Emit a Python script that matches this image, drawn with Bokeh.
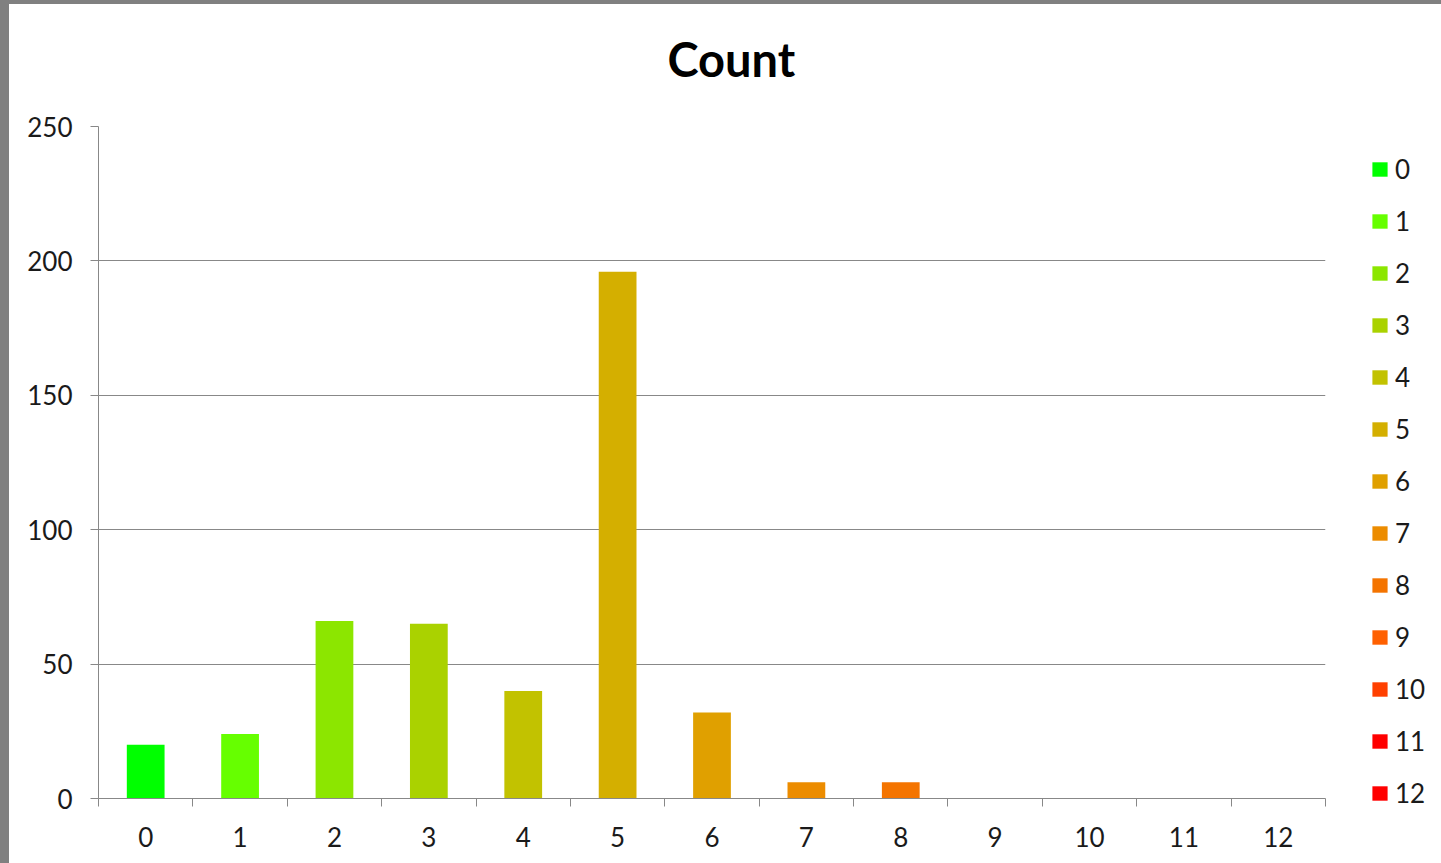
from bokeh.plotting import figure
from bokeh.models import ColumnDataSource, FixedTicker, Legend, LegendItem, Title
from bokeh.embed import file_html
from bokeh.resources import INLINE

title_text = "Count"
categories = ["0", "1", "2", "3", "4", "5", "6", "7", "8", "9", "10", "11", "12"]
counts = [20, 24, 66, 65, 40, 196, 32, 6, 6, 0, 0, 0, 0]
colors = ["#00FF00", "#66FF00", "#8CE600", "#AAD200", "#C2C200", "#D4AF00", "#E0A000",
          "#EC8C00", "#F47400", "#FF6000", "#FF4000", "#FF0000", "#FF0000"]
y_ticks = [0, 50, 100, 150, 200, 250]

FONT = "Lato"
GRAY = "#888888"
TXT = "#1a1a1a"

n = len(categories)
xs = [i + 0.5 for i in range(n)]
src = ColumnDataSource(dict(x=xs, top=counts, color=colors, cat=categories))

p = figure(frame_width=1227, frame_height=672, x_range=(0, n), y_range=(0, 250),
           output_backend="svg", toolbar_location=None, title_location=None,
           min_border_left=89, min_border_top=122, min_border_bottom=65, min_border_right=116,
           styles={"border-left": "9px solid #808080", "border-top": "4px solid #808080"})

r = p.vbar(x="x", top="top", width=0.4, color="color", line_color=None, source=src)

# blank spacer between plot area and title, then the title itself
spacer = Title(text=" ", text_font_size="12px", standoff=24)
main_title = Title(text=title_text, text_font=FONT, text_font_size="47px",
                   text_font_style="bold", text_color="#000000",
                   align="left", offset=569, standoff=0)
p.add_layout(spacer, "above")
p.add_layout(main_title, "above")

p.outline_line_color = None
p.xgrid.visible = False
p.ygrid.grid_line_color = GRAY
p.ygrid.grid_line_width = 1

ya = p.yaxis[0]
ya.ticker = FixedTicker(ticks=y_ticks)
ya.major_tick_out = 8
ya.major_tick_in = 0
ya.minor_tick_out = 0
ya.minor_tick_in = 0
ya.axis_line_color = GRAY
ya.major_tick_line_color = GRAY
ya.major_label_text_font = FONT
ya.major_label_text_font_size = "26px"
ya.major_label_text_color = TXT
ya.major_label_standoff = 18

xa = p.xaxis[0]
xa.ticker = FixedTicker(ticks=xs, minor_ticks=list(range(n + 1)))
xa.major_label_overrides = {x: c for x, c in zip(xs, categories)}
xa.major_tick_out = 0
xa.major_tick_in = 0
xa.minor_tick_out = 8
xa.minor_tick_in = 0
xa.axis_line_color = GRAY
xa.minor_tick_line_color = GRAY
xa.major_label_text_font = FONT
xa.major_label_text_font_size = "26px"
xa.major_label_text_color = TXT
xa.major_label_standoff = 20

items = [LegendItem(label=c, renderers=[r], index=i) for i, c in enumerate(categories)]
legend = Legend(items=items, location=(45, -11), orientation="vertical")
legend.glyph_width = 19
legend.glyph_height = 18
legend.label_standoff = 6
legend.label_text_font = FONT
legend.label_text_font_size = "26px"
legend.label_text_color = TXT
legend.label_height = 20
legend.spacing = 20
legend.padding = 0
legend.margin = 0
legend.border_line_alpha = 0
legend.background_fill_alpha = 0
p.add_layout(legend, "right")

open("out.html", "w").write(file_html(p, INLINE))
